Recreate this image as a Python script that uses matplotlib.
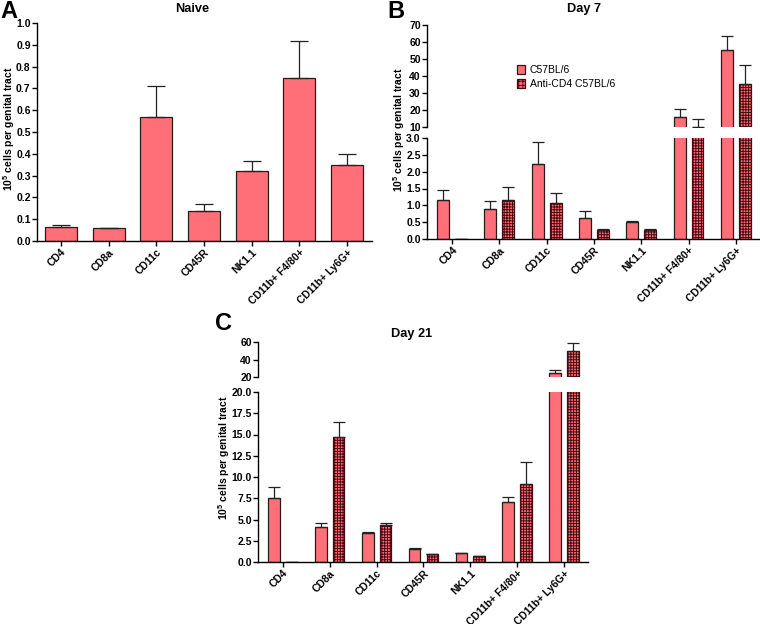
import numpy as np
import matplotlib
matplotlib.use('Agg')
import matplotlib.pyplot as plt
from matplotlib.patches import Patch

plt.rcParams['font.family'] = ['Liberation Sans', 'DejaVu Sans']
plt.rcParams['font.weight'] = 'bold'
plt.rcParams['mathtext.default'] = 'regular'
plt.rcParams['hatch.linewidth'] = 0.7

cells = ['CD4', 'CD8a', 'CD11c', 'CD45R', 'NK1.1', 'CD11b+ F4/80+', 'CD11b+ Ly6G+']

# panel A: naive mice
naive_mean = [0.062, 0.058, 0.567, 0.137, 0.320, 0.750, 0.347]
naive_sem = [0.010, 0.0, 0.143, 0.033, 0.045, 0.168, 0.053]

# panel B: day 7
d7_wt_mean = [1.15, 0.90, 2.23, 0.62, 0.50, 15.8, 55.5]
d7_wt_sem = [0.32, 0.23, 0.64, 0.20, 0.02, 4.8, 8.0]
d7_cd4_mean = [0.0, 1.15, 1.08, 0.28, 0.27, 10.2, 35.0]
d7_cd4_sem = [0.0, 0.38, 0.28, 0.02, 0.02, 4.5, 11.5]

# panel C: day 21
d21_wt_mean = [7.5, 4.1, 3.4, 1.5, 1.05, 7.05, 24.6]
d21_wt_sem = [1.3, 0.5, 0.15, 0.15, 0.03, 0.65, 3.4]
d21_cd4_mean = [0.0, 14.75, 4.35, 0.9, 0.70, 9.2, 49.7]
d21_cd4_sem = [0.0, 1.75, 0.25, 0.1, 0.05, 2.6, 9.3]

legend_labels = ['C57BL/6', 'Anti-CD4 C57BL/6']

PINK = '#ff6f78'
EDGE = '#2a1a1a'
HEDGE = '#4a0810'
HATCH = '++++++'
FS = 7.5
W, H = 760, 624


def px(x0, y0, x1, y1):
    # pixel box (left, top, right, bottom) -> figure fraction rect
    return [x0 / W, 1 - y1 / H, (x1 - x0) / W, (y1 - y0) / H]


def style(ax, upper=False):
    ax.spines['top'].set_visible(False)
    ax.spines['right'].set_visible(False)
    for s in ax.spines.values():
        s.set_linewidth(1.0)
    ax.tick_params(direction='out', length=3.5, width=1, labelsize=FS, pad=1)
    if upper:
        ax.spines['bottom'].set_visible(False)
        ax.set_xticks([])


def errs(ax, x, mean, sem, cap):
    ax.errorbar(x, mean, yerr=[np.zeros(len(sem)), sem], fmt='none',
                ecolor='#222222', elinewidth=0.9, capsize=cap, capthick=0.9)


def pair(ax, wt_mean, wt_sem, cd4_mean, cd4_sem):
    x = np.arange(len(cells))
    ax.bar(x - 0.19, wt_mean, 0.25, color=PINK, edgecolor=EDGE, linewidth=0.9)
    ax.bar(x + 0.19, cd4_mean, 0.25, color=PINK, edgecolor=HEDGE, linewidth=0.9,
           hatch=HATCH)
    errs(ax, x - 0.19, wt_mean, wt_sem, 4.3)
    errs(ax, x + 0.19, cd4_mean, cd4_sem, 4.3)
    ax.set_xlim(-0.53, 6.51)


def xlabels(ax):
    ax.set_xticks(np.arange(len(cells)))
    ax.set_xticklabels(cells, rotation=45, ha='right', rotation_mode='anchor',
                       fontsize=FS)


fig = plt.figure(figsize=(7.6, 6.24), dpi=100)
ylab = '10$^5$ cells per genital tract'

# ---- A
axA = fig.add_axes(px(37, 23, 372, 241))
x = np.arange(len(cells))
axA.bar(x, naive_mean, 0.67, color=PINK, edgecolor=EDGE, linewidth=0.9)
errs(axA, x, naive_mean, naive_sem, 6.5)
axA.set_xlim(-0.5, 6.52)
axA.set_ylim(0, 1.0)
axA.set_yticks(np.arange(0, 1.01, 0.1))
axA.set_yticklabels(['%.1f' % v for v in np.arange(0, 1.01, 0.1)])
style(axA)
xlabels(axA)
fig.text(9 / W, 1 - 129 / H, ylab, rotation=90, ha='center', va='center', fontsize=FS)
fig.text(192 / W, 1 - 9 / H, 'Naive', ha='center', va='center', fontsize=9.2)
fig.text(9 / W, 1 - 12 / H, 'A', ha='center', va='center', fontsize=17)

# ---- B
axB = fig.add_axes(px(427, 138, 760, 239))
axBu = fig.add_axes(px(427, 25, 760, 127))
for ax in (axB, axBu):
    pair(ax, d7_wt_mean, d7_wt_sem, d7_cd4_mean, d7_cd4_sem)
axB.set_ylim(0, 3.0)
axB.set_yticks(np.arange(0, 3.01, 0.5))
axB.set_yticklabels(['%.1f' % v for v in np.arange(0, 3.01, 0.5)])
axBu.set_ylim(10, 70)
axBu.set_yticks(np.arange(10, 71, 10))
style(axB)
style(axBu, upper=True)
xlabels(axB)
fig.text(399 / W, 1 - 130 / H, ylab, rotation=90, ha='center', va='center', fontsize=FS)
fig.text(584 / W, 1 - 9 / H, 'Day 7', ha='center', va='center', fontsize=9.2)
fig.text(396 / W, 1 - 11 / H, 'B', ha='center', va='center', fontsize=17)
handles = [Patch(facecolor=PINK, edgecolor=EDGE, linewidth=0.9),
           Patch(facecolor=PINK, edgecolor=HEDGE, linewidth=0.9, hatch='++++')]
fig.legend(handles, legend_labels, loc='upper left',
           bbox_to_anchor=(510 / W, 1 - 58 / H), frameon=False,
           prop={'size': 7.5, 'weight': 'normal'}, handlelength=0.75,
           handleheight=0.9, handletextpad=0.45, labelspacing=0.35,
           borderpad=0.2)

# ---- C
axC = fig.add_axes(px(258, 392, 588, 562))
axCu = fig.add_axes(px(258, 342, 588, 377))
for ax in (axC, axCu):
    pair(ax, d21_wt_mean, d21_wt_sem, d21_cd4_mean, d21_cd4_sem)
axC.set_ylim(0, 20)
axC.set_yticks(np.arange(0, 20.01, 2.5))
axC.set_yticklabels(['%.1f' % v for v in np.arange(0, 20.01, 2.5)])
axCu.set_ylim(20, 60)
axCu.set_yticks([20, 40, 60])
style(axC)
style(axCu, upper=True)
xlabels(axC)
fig.text(224 / W, 1 - 458 / H, ylab, rotation=90, ha='center', va='center', fontsize=FS)
fig.text(412 / W, 1 - 334 / H, 'Day 21', ha='center', va='center', fontsize=9.2)
fig.text(224 / W, 1 - 324 / H, 'C', ha='center', va='center', fontsize=17)

fig.savefig('out.png', dpi=100)
